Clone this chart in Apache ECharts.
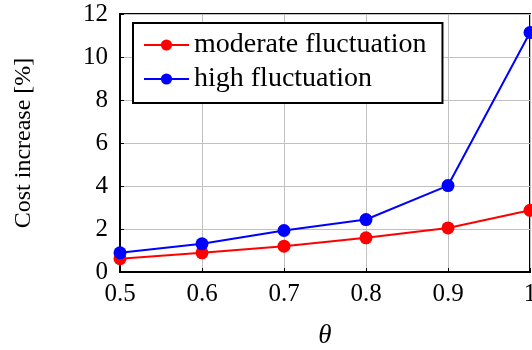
<!DOCTYPE html>
<html>
<head>
<meta charset="utf-8">
<script src="https://cdn.jsdelivr.net/npm/echarts@6/dist/echarts.min.js"></script>
<style>
  html, body { margin: 0; padding: 0; background: #fff; }
  #chart { width: 532px; height: 350px; }
</style>
</head>
<body>
<div id="chart"></div>
<script>
const thetas = [0.5, 0.6, 0.7, 0.8, 0.9, 1.0];
const moderate = [0.62, 0.89, 1.2, 1.59, 2.05, 2.87];
const high = [0.89, 1.31, 1.93, 2.44, 4.02, 11.14];
const seriesNames = ["moderate fluctuation", "high fluctuation"];

const FONT = "Liberation Serif";
const chart = echarts.init(document.getElementById("chart"));

const pairs = vals => thetas.map((t, i) => [t, vals[i]]);

chart.setOption({
  backgroundColor: "#fff",
  animation: false,
  grid: {
    left: 120, right: 2, top: 14, bottom: 78,
    outerBoundsMode: "none",
    show: true, borderColor: "#000", borderWidth: 2, backgroundColor: "transparent"
  },
  legend: {
    orient: "vertical",
    left: 133, top: 23,
    padding: [8, 16, 10, 10],
    itemGap: 6,
    itemWidth: 45, itemHeight: 14,
    itemTextGap: 8,
    borderColor: "#000", borderWidth: 2,
    backgroundColor: "#fff",
    textStyle: { fontFamily: FONT, fontSize: 28, lineHeight: 27, color: "#000" },
    data: seriesNames
  },
  xAxis: {
    type: "value",
    min: 0.5, max: 1, interval: 0.1,
    name: "θ",
    nameLocation: "middle",
    nameGap: 50,
    nameTextStyle: { fontFamily: FONT, fontSize: 27, fontStyle: "italic", color: "#000" },
    axisLine: { show: true, lineStyle: { color: "#000", width: 2 } },
    axisTick: { show: true, inside: true, length: 4, lineStyle: { color: "#000" } },
    axisLabel: {
      fontFamily: FONT, fontSize: 25, color: "#000", margin: 10,
      formatter: v => (v === 1 ? "1" : v.toFixed(1))
    },
    splitLine: { show: true, lineStyle: { color: "#c0c0c0", width: 1 } }
  },
  yAxis: {
    type: "value",
    min: 0, max: 12, interval: 2,
    name: "Cost increase [%]",
    nameLocation: "middle",
    nameGap: 84,
    nameTextStyle: { fontFamily: FONT, fontSize: 24, color: "#000" },
    axisLine: { show: true, lineStyle: { color: "#000", width: 2 } },
    axisTick: { show: true, inside: true, length: 4, lineStyle: { color: "#000" } },
    axisLabel: { fontFamily: FONT, fontSize: 25, color: "#000", margin: 12 },
    splitLine: { show: true, lineStyle: { color: "#c0c0c0", width: 1 } }
  },
  series: [
    {
      name: seriesNames[0],
      type: "line",
      data: pairs(moderate),
      symbol: "circle", symbolSize: 13,
      itemStyle: { color: "#ff0000" },
      lineStyle: { color: "#ff0000", width: 2 },
      clip: false
    },
    {
      name: seriesNames[1],
      type: "line",
      data: pairs(high),
      symbol: "circle", symbolSize: 13,
      itemStyle: { color: "#0000ff" },
      lineStyle: { color: "#0000ff", width: 2 },
      clip: false
    }
  ]
});
</script>
</body>
</html>
